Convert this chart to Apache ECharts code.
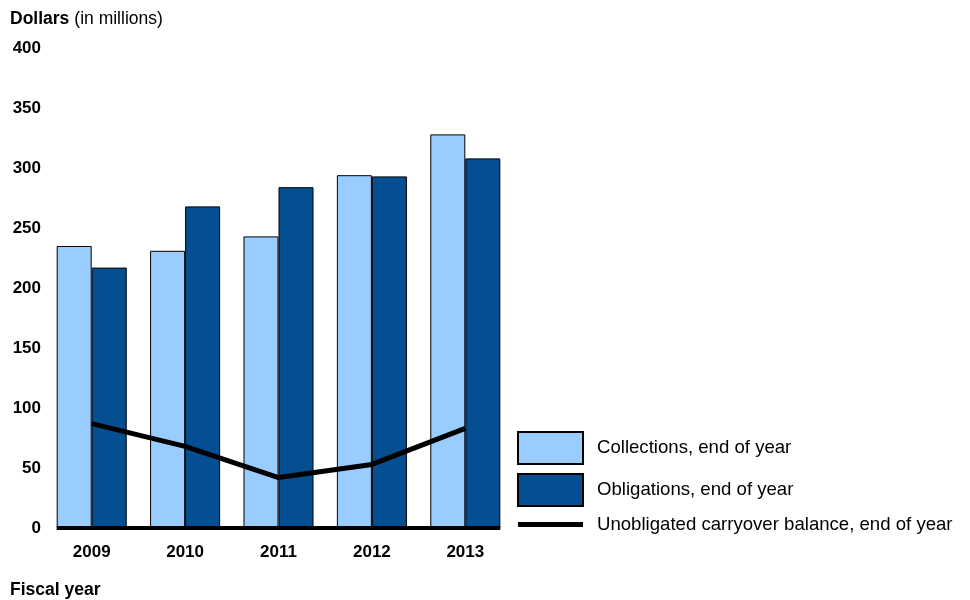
<!DOCTYPE html>
<html>
	<head>
		<meta charset="UTF-8">
		<title>Collections and obligations</title>
		<script type="text/javascript" src="https://cdn.jsdelivr.net/npm/echarts@6/dist/echarts.min.js"></script>
		<style>
			body { margin: 0; background: #fff; }
		</style>
	</head>
	<body>
		<div id="chart" style="width:970px; height:600px;"></div>
		<script>
		// data
		var years = ['2009', '2010', '2011', '2012', '2013'];
		var collections = [235, 231, 243, 294, 328];
		var obligations = [217, 268, 284, 293, 308];
		var carryover = [87, 68, 42, 53, 83];
		var yTicks = [0, 50, 100, 150, 200, 250, 300, 350, 400];

		var font = 'Liberation Sans, Arial, sans-serif';
		var myChart = echarts.init(document.getElementById('chart'));

		var option = {
			animation: false,
			title: {
				left: 5,
				top: 5,
				text: '{b|Dollars} {n|(in millions)}',
				textStyle: {
					fontWeight: 'normal',
					rich: {
						b: { fontFamily: font, fontSize: 17.5, fontWeight: 'bold', color: '#000' },
						n: { fontFamily: font, fontSize: 17.5, fontWeight: 'normal', color: '#000' }
					}
				}
			},
			grid: { left: 45, right: 458, top: 48, bottom: 72 },
			legend: {
				orient: 'vertical',
				left: 512,
				top: 426,
				itemWidth: 65,
				itemHeight: 32,
				itemGap: 8,
				symbolKeepAspect: true,
				textStyle: { fontFamily: font, fontSize: 18.6, color: '#000', padding: [0, 0, 0, 9] },
				data: [
					{ name: 'Collections, end of year', icon: 'rect' },
					{ name: 'Obligations, end of year', icon: 'rect' },
					{ name: 'Unobligated carryover balance, end of year', icon: 'path://M0,0H65V5H0Z', itemStyle: { color: '#000', borderWidth: 0 } }
				]
			},
			xAxis: {
				type: 'category',
				data: years,
				axisLine: { show: false },
				axisTick: { show: false },
				axisLabel: { margin: 16, fontFamily: font, fontSize: 17, fontWeight: 'bold', color: '#000' }
			},
			yAxis: {
				type: 'value',
				min: 0,
				max: 400,
				interval: 50,
				axisLine: { show: false },
				axisTick: { show: false },
				splitLine: { show: false },
				axisLabel: {
					margin: 4,
					fontFamily: font, fontSize: 17, fontWeight: 'bold', color: '#000',
					formatter: function (v) { return yTicks.indexOf(v) >= 0 ? String(v) : ''; }
				}
			},
			series: [
				{
					name: 'Collections, end of year',
					type: 'bar',
					barGap: '0%',
					barCategoryGap: '25%',
					itemStyle: { color: '#99CCFF', borderColor: '#000', borderWidth: 1 },
					data: collections
				}, {
					name: 'Obligations, end of year',
					type: 'bar',
					barGap: '0%',
					barCategoryGap: '25%',
					itemStyle: { color: '#034F91', borderColor: '#000', borderWidth: 1 },
					data: obligations
				}, {
					name: 'Unobligated carryover balance, end of year',
					type: 'line',
					symbol: 'none',
					z: 5,
					lineStyle: { color: '#000', width: 5 },
					itemStyle: { color: '#000' },
					data: carryover
				}
			]
		};
		myChart.setOption(option);

		// baseline from first bar's left edge to last bar's right edge, plus axis title
		var c0 = myChart.convertToPixel({ xAxisIndex: 0 }, years[0]);
		var c1 = myChart.convertToPixel({ xAxisIndex: 0 }, years[1]);
		var cN = myChart.convertToPixel({ xAxisIndex: 0 }, years[years.length - 1]);
		var half = (c1 - c0) * 0.75 / 2;
		var y0 = myChart.convertToPixel({ yAxisIndex: 0 }, 0);
		myChart.setOption({
			graphic: [
				{
					type: 'rect', z: 10,
					shape: { x: c0 - half, y: y0 - 2, width: cN + half - (c0 - half), height: 4 },
					style: { fill: '#000' }
				}, {
					type: 'text', left: 10, top: 581,
					style: { text: 'Fiscal year', fontFamily: font, fontSize: 17.5, fontWeight: 'bold', fill: '#000' }
				}
			]
		});
		</script>
	</body>
</html>
